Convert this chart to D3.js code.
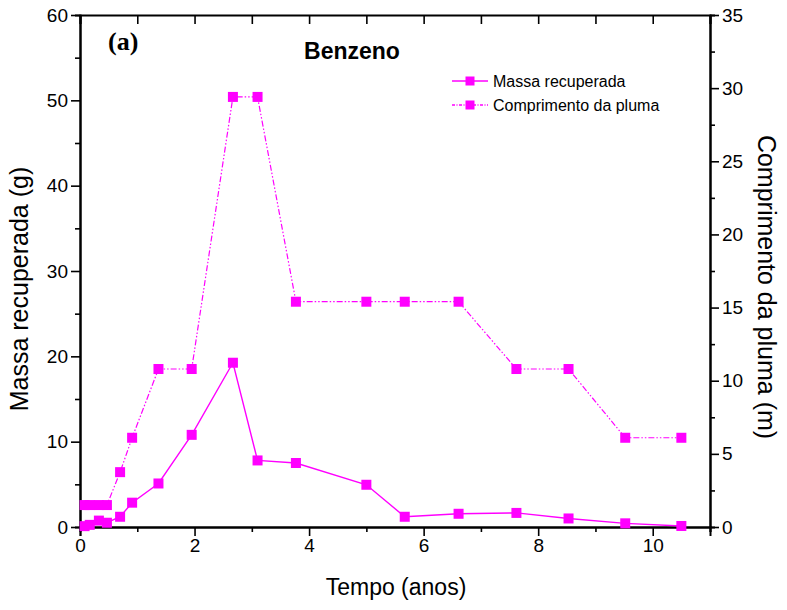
<!DOCTYPE html>
<html>
<head>
<meta charset="utf-8">
<script src="https://cdn.jsdelivr.net/npm/d3@7"></script>
<style>
  body { margin: 0; background: #fff; }
  svg text { font-family: "Liberation Sans", Arial, sans-serif; fill: #000; }
</style>
</head>
<body>
<div id="chart"></div>
<script>
// values
const tempo = [0.08, 0.17, 0.33, 0.47, 0.70, 0.91, 1.37, 1.95, 2.67, 3.10, 3.77, 5.00, 5.67, 6.61, 7.62, 8.53, 9.52, 10.50]
const massa = [0.1, 0.25, 0.75, 0.5, 1.2, 2.85, 5.1, 10.8, 19.25, 7.8, 7.5, 4.95, 1.2, 1.55, 1.65, 1.0, 0.43, 0.12]
const pluma = [1.5, 1.5, 1.5, 1.5, 3.75, 6.1, 10.8, 10.8, 29.4, 29.4, 15.4, 15.4, 15.4, 15.4, 10.8, 10.8, 6.1, 6.1]
const xTicks = [0, 2, 4, 6, 8, 10]
const yLeftTicks = [0, 10, 20, 30, 40, 50, 60]
const yRightTicks = [0, 5, 10, 15, 20, 25, 30, 35]
const seriesNames = ["Massa recuperada", "Comprimento da pluma"]

const width = 787, height = 610
const margin = {top: 15, right: 77, bottom: 83, left: 80}
const color = "#ff00ff"
const dashPattern = "6,2,1.5,2,1.5,2"

const x = d3.scaleLinear().domain([0, 11]).range([margin.left, width - margin.right])
const yL = d3.scaleLinear().domain([0, 60]).range([height - margin.bottom, margin.top])
const yR = d3.scaleLinear().domain([0, 35]).range([height - margin.bottom, margin.top])

const svg = d3.select("#chart").append("svg")
    .attr("width", width)
    .attr("height", height)

//// axes
function styleAxis(g) {
    g.selectAll(".domain").attr("stroke", "#000").attr("stroke-width", 2)
    g.selectAll(".tick line").attr("stroke", "#000").attr("stroke-width", 1.6)
    g.selectAll(".tick text").attr("font-size", 19).attr("font-family", "Liberation Sans, Arial, sans-serif")
}
const bottomY = height - margin.bottom
const rightX = width - margin.right

// minor ticks first
svg.append("g").attr("transform", `translate(0,${bottomY})`)
    .call(d3.axisBottom(x).tickValues(d3.range(1, 12, 2)).tickSize(5).tickFormat(""))
    .call(styleAxis)
svg.append("g").attr("transform", `translate(${margin.left},0)`)
    .call(d3.axisLeft(yL).tickValues(d3.range(5, 60, 10)).tickSize(5).tickFormat(""))
    .call(styleAxis)
svg.append("g").attr("transform", `translate(${rightX},0)`)
    .call(d3.axisRight(yR).tickValues(d3.range(2.5, 35, 5)).tickSize(5).tickFormat(""))
    .call(styleAxis)
svg.append("g").attr("transform", `translate(0,${margin.top})`)
    .call(d3.axisTop(x).tickValues(d3.range(0, 12, 1)).tickSize(-9).tickFormat(""))
    .call(styleAxis)

// major ticks
svg.append("g").attr("transform", `translate(0,${bottomY})`)
    .call(d3.axisBottom(x).tickValues(xTicks).tickSize(9).tickPadding(3).tickSizeOuter(9))
    .call(styleAxis)
svg.append("g").attr("transform", `translate(${margin.left},0)`)
    .call(d3.axisLeft(yL).tickValues(yLeftTicks).tickSize(9).tickPadding(3).tickSizeOuter(0))
    .call(styleAxis)
svg.append("g").attr("transform", `translate(${rightX},0)`)
    .call(d3.axisRight(yR).tickValues(yRightTicks).tickSize(9).tickPadding(3).tickSizeOuter(0))
    .call(styleAxis)

//// lines
const data = tempo.map((t, i) => ({t: t, m: massa[i], p: pluma[i]}))
const lineMassa = d3.line().x(d => x(d.t)).y(d => yL(d.m))
const linePluma = d3.line().x(d => x(d.t)).y(d => yR(d.p))
const ms = 10

svg.append("path").datum(data)
    .attr("fill", "none").attr("stroke", color).attr("stroke-width", 1.2)
    .attr("stroke-dasharray", dashPattern)
    .attr("d", linePluma)
svg.append("path").datum(data)
    .attr("fill", "none").attr("stroke", color).attr("stroke-width", 1.4)
    .attr("d", lineMassa)

svg.append("g").selectAll("rect").data(data).join("rect")
    .attr("x", d => x(d.t) - ms / 2).attr("y", d => yR(d.p) - ms / 2)
    .attr("width", ms).attr("height", ms).attr("fill", color)
svg.append("g").selectAll("rect").data(data).join("rect")
    .attr("x", d => x(d.t) - ms / 2).attr("y", d => yL(d.m) - ms / 2)
    .attr("width", ms).attr("height", ms).attr("fill", color)

//// legend
const legend = svg.append("g").attr("transform", "translate(452,81)")
seriesNames.forEach((name, i) => {
    const row = legend.append("g").attr("transform", `translate(0,${i * 24})`)
    row.append("line").attr("x1", 0).attr("x2", 36).attr("y1", 0).attr("y2", 0)
        .attr("stroke", color).attr("stroke-width", 1.3)
        .attr("stroke-dasharray", i == 1 ? "3,1.5,1,1.5" : null)
    row.append("rect").attr("x", 13.5).attr("y", -4.5).attr("width", 9).attr("height", 9).attr("fill", color)
    row.append("text").attr("x", 41).attr("y", 6).attr("font-size", 16).text(name)
})

//// titles
svg.append("text").attr("x", 108).attr("y", 50)
    .style("font-family", "'Liberation Serif', 'Times New Roman', serif")
    .attr("font-weight", "bold").attr("font-size", 26).text("(a)")
svg.append("text").attr("x", 352).attr("y", 59).attr("text-anchor", "middle")
    .attr("font-weight", "bold").attr("font-size", 23).text("Benzeno")
svg.append("text").attr("x", (margin.left + rightX) / 2 + 1).attr("y", 595).attr("text-anchor", "middle")
    .attr("font-size", 23).text("Tempo (anos)")
svg.append("text").attr("transform", "translate(28,289) rotate(-90)").attr("text-anchor", "middle")
    .attr("font-size", 25).text("Massa recuperada (g)")
svg.append("text").attr("transform", "translate(758,287) rotate(90)").attr("text-anchor", "middle")
    .attr("font-size", 25).text("Comprimento da pluma (m)")
</script>
</body>
</html>
